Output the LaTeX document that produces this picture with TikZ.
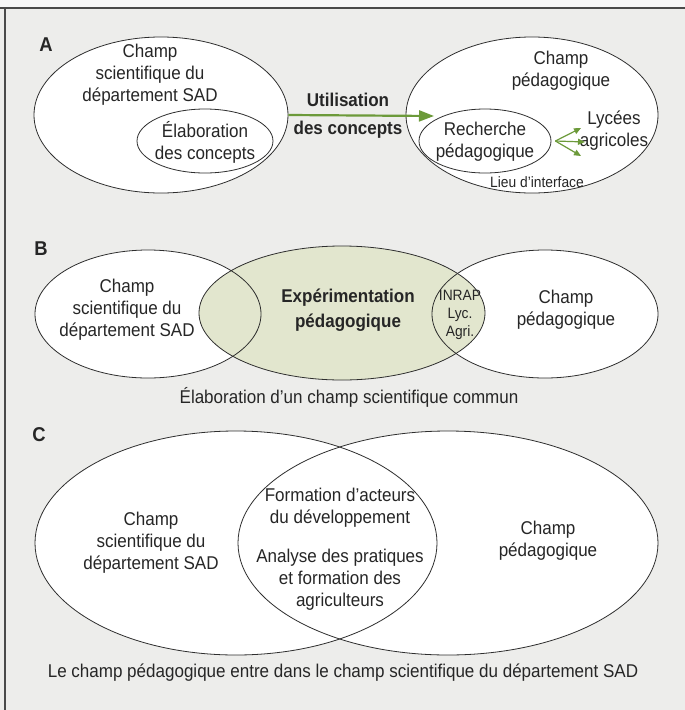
\documentclass[tikz,border=0pt]{standalone}
\usepackage{fontspec}
\setmainfont[FakeStretch=0.92]{Liberation Sans}
\usetikzlibrary{shapes.geometric,
                arrows.meta,
                positioning}
\definecolor{panelgray}{HTML}{EDEDEB}
\definecolor{framegray}{HTML}{4A4A4A}
\definecolor{linegray}{HTML}{2E2E2E}
\definecolor{shadegreen}{HTML}{E2E6CE}
\definecolor{arrowgreen}{HTML}{6C9A3A}
\tikzset{field/.style=
   {ellipse,
    fill=white,
    inner sep=0pt}}
\tikzset{outline/.style = {draw=linegray, line width=0.8pt}}
\tikzset{txt/.style =
   {align=center,
    text=black!85,
    font=\fontsize{18.5}{22}\selectfont}}
\tikzset{boldtxt/.style =
   {align=center,
    text=black!85,
    font=\fontsize{18.5}{22}\selectfont\bfseries}}
\tikzset{smalltxt/.style =
   {align=center,
    text=black!85,
    font=\fontsize{15}{18}\selectfont}}
\tikzset{panel/.style = {text=black!85, font=\fontsize{20}{21}\selectfont\bfseries}}
\tikzset{arrow/.style = {draw=arrowgreen, line width=2.2pt, -{Triangle[length=15pt,width=11pt]}}}
\tikzset{smallarrow/.style = {draw=arrowgreen, line width=1.2pt, -{Triangle[length=7pt,width=6pt]}}}

\begin{document}
\begin{tikzpicture}[x=1pt, y=-1pt, auto]

    % background and frame
    \useasboundingbox (0,0) rectangle (685,710);
    \fill [panelgray] (0,0) rectangle (685,710);
    \fill [gray!6] (0,0) rectangle (685,8);
    \draw [framegray, line width=1.2pt] (0,8) -- (685,8);
    \draw [framegray, line width=1.2pt] (5,8) -- (5,710);

    % ---- A ----
    \node [panel] (lblA) at (46,45) {A};

    \node [field, outline,
           minimum width=254,
           minimum height=156] (sadA) at (161,115) {};
    \node [field, outline,
           minimum width=136,
           minimum height=64] (elabA) at (205,141) {};
    \node [txt] (sadAtxt) at (150,75) {Champ\\scientifique du\\département SAD};
    \node [txt] (elabAtxt) at (205,142) {Élaboration\\des concepts};

    \node [field, outline,
           minimum width=252,
           minimum height=156] (pedA) at (532,115) {};
    \node [field, outline,
           minimum width=132,
           minimum height=64] (rechA) at (485,141) {};
    \node [txt] (pedAtxt) at (561,71) {Champ\\pédagogique};
    \node [txt] (rechAtxt) at (485,142) {Recherche\\pédagogique};
    \node [txt] (lycees) at (614,131) {Lycées\\agricoles};
    \node [smalltxt] (interface) at (537,182) {Lieu d'interface};

    \node [boldtxt] (utilA) at (348,116) {Utilisation\\[6pt]des concepts};
    \coordinate (tipA) at (434,116);
    \draw [arrow] (sadA.east) -- (tipA);

    \coordinate (lycA1) at (581,128);
    \coordinate (lycA2) at (585,142);
    \coordinate (lycA3) at (581,156);
    \foreach \t in {lycA1, lycA2, lycA3}
        \draw [smallarrow] ([xshift=4pt]rechA.east) -- (\t);

    % ---- B ----
    \node [panel] (lblB) at (41,249) {B};

    \node [field,
           minimum width=226,
           minimum height=128] (sadB) at (148,314) {};
    \node [field,
           minimum width=226,
           minimum height=128] (pedB) at (545,314) {};
    \node [field, fill=shadegreen,
           minimum width=286,
           minimum height=134] (expB) at (342,313) {};
    \draw [outline] (sadB.center) ellipse [x radius=113, y radius=64];
    \draw [outline] (pedB.center) ellipse [x radius=113, y radius=64];
    \draw [outline] (expB.center) ellipse [x radius=143, y radius=67];

    \node [txt] (sadBtxt) at (127,310) {Champ\\scientifique du\\département SAD};
    \node [boldtxt] (expBtxt) at (348,310) {Expérimentation\\[3pt]pédagogique};
    \node [smalltxt] (inrap) at (460,315) {INRAP\\Lyc.\\Agri.};
    \node [txt] (pedBtxt) at (566,310) {Champ\\pédagogique};
    \node [txt] (capB) at (349,397) {Élaboration d'un champ scientifique commun};

    % ---- C ----
    \node [panel] (lblC) at (39,435) {C};

    \node [field,
           minimum width=402,
           minimum height=224] (sadC) at (236,543) {};
    \node [field,
           minimum width=420,
           minimum height=224] (pedC) at (448,543) {};
    \draw [outline] (sadC.center) ellipse [x radius=201, y radius=112];
    \draw [outline] (pedC.center) ellipse [x radius=210, y radius=112];

    \node [txt] (sadCtxt) at (151,543) {Champ\\scientifique du\\département SAD};
    \node [txt] (formC) at (340,508) {Formation d'acteurs\\du développement};
    \node [txt] (analC) at (340,580) {Analyse des pratiques\\et formation des\\agriculteurs};
    \node [txt] (pedCtxt) at (548,541) {Champ\\pédagogique};
    \node [txt] (capC) at (343,673) {Le champ pédagogique entre dans le champ scientifique du département SAD};

\end{tikzpicture}
\end{document}
